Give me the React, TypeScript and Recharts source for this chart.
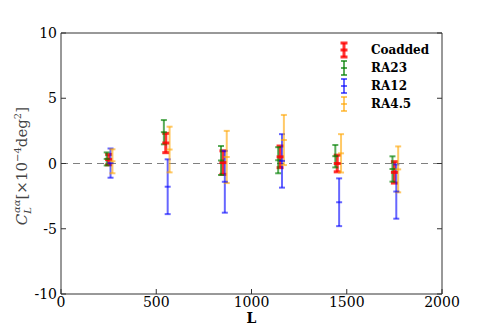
import { ScatterChart, Scatter, XAxis, YAxis, ErrorBar, ReferenceLine, Legend } from 'recharts'

const xTicks = [0, 500, 1000, 1500, 2000]
const yTicks = [-10, -5, 0, 5, 10]

// multipole bins, each sample shifted a little so the bars don't overlap
const coaddedL = [250, 550, 850, 1150, 1450, 1750]
const coaddedC = [0.3, 1.57, 0.07, 0.51, 0.0, -0.68]
const coaddedErr = [0.4, 0.74, 0.9, 0.83, 0.64, 0.82]

const ra23L = [240, 540, 840, 1140, 1440, 1740]
const ra23C = [0.35, 2.4, 0.23, 0.25, 0.56, -0.42]
const ra23Err = [0.5, 0.93, 1.11, 1.0, 0.86, 0.97]

const ra12L = [260, 560, 860, 1160, 1460, 1760]
const ra12C = [0.03, -1.78, -1.4, 0.2, -2.97, -2.15]
const ra12Err = [1.12, 2.1, 2.37, 2.05, 1.83, 2.08]

const ra45L = [270, 570, 870, 1170, 1470, 1770]
const ra45C = [0.17, 1.07, 0.5, 1.8, 0.78, -0.45]
const ra45Err = [0.92, 1.75, 2.0, 1.92, 1.47, 1.76]

const series = [
    { name: 'Coadded', ells: coaddedL, vals: coaddedC, errs: coaddedErr, color: 'rgba(255,0,0,0.8)', lw: 3, cap: 3.5 },
    { name: 'RA23', ells: ra23L, vals: ra23C, errs: ra23Err, color: 'rgba(0,128,0,0.65)', lw: 2, cap: 3 },
    { name: 'RA12', ells: ra12L, vals: ra12C, errs: ra12Err, color: 'rgba(0,0,255,0.6)', lw: 2, cap: 3 },
    { name: 'RA4.5', ells: ra45L, vals: ra45C, errs: ra45Err, color: 'rgba(255,165,0,0.6)', lw: 2, cap: 3 },
]

const axisColor = '#333'
const font = 'DejaVu Serif'

const LeftTick = ({ x, y, payload }: any) => (
    <g>
        <line x1={x} x2={x + 5} y1={y} y2={y} stroke={axisColor} />
        <text x={x - 4} y={y + 5} textAnchor="end" fontFamily={font} fontSize={14} fill="#000">
            {String(payload.value)}
        </text>
    </g>
)

const BottomTick = ({ x, y, payload }: any) => (
    <g>
        <line x1={x} x2={x} y1={y} y2={y - 5} stroke={axisColor} />
        <text x={x} y={y + 13} textAnchor="middle" fontFamily={font} fontSize={14} fill="#000">
            {String(payload.value)}
        </text>
    </g>
)

const RightTick = ({ x, y }: any) => <line x1={x} x2={x - 5} y1={y} y2={y} stroke={axisColor} />
const TopTick = ({ x, y }: any) => <line x1={x} x2={x} y1={y} y2={y + 5} stroke={axisColor} />

const LegendBox = () => (
    <div style={{ fontFamily: font, fontSize: 12, fontWeight: 'bold' }}>
        {series.map((s) => (
            <div key={s.name} style={{ display: 'flex', alignItems: 'center', height: 18 }}>
                <svg width={12} height={18}>
                    <line x1={6} x2={6} y1={2} y2={16} stroke={s.color} strokeWidth={s.lw} />
                    <line x1={6 - s.cap} x2={6 + s.cap} y1={2} y2={2} stroke={s.color} strokeWidth={s.lw} />
                    <line x1={6 - s.cap} x2={6 + s.cap} y1={16} y2={16} stroke={s.color} strokeWidth={s.lw} />
                    <line x1={6 - s.cap} x2={6 + s.cap} y1={9} y2={9} stroke={s.color} strokeWidth={s.lw} />
                </svg>
                <span style={{ marginLeft: 21, color: '#000' }}>{s.name}</span>
            </div>
        ))}
    </div>
)

export default function App() {
    return (
        <div style={{ position: 'absolute', left: 0, top: 0, width: 491, height: 327, background: '#fff' }}>
            <ScatterChart width={491} height={327} margin={{ top: 0, right: 0, bottom: 0, left: 0 }}>
                <XAxis
                    type="number"
                    dataKey="l"
                    domain={[0, 2000]}
                    ticks={xTicks}
                    interval={0}
                    height={33}
                    tickSize={0}
                    tickMargin={0}
                    tick={<BottomTick />}
                    axisLine={{ stroke: axisColor }}
                    allowDataOverflow
                />
                <XAxis
                    xAxisId="top"
                    orientation="top"
                    type="number"
                    domain={[0, 2000]}
                    ticks={xTicks}
                    interval={0}
                    height={33}
                    tickSize={0}
                    tickMargin={0}
                    tick={<TopTick />}
                    axisLine={{ stroke: axisColor }}
                    allowDataOverflow
                />
                <YAxis
                    type="number"
                    dataKey="v"
                    domain={[-10, 10]}
                    ticks={yTicks}
                    interval={0}
                    width={61}
                    tickSize={0}
                    tickMargin={0}
                    tick={<LeftTick />}
                    axisLine={{ stroke: axisColor }}
                    allowDataOverflow
                />
                <YAxis
                    yAxisId="right"
                    orientation="right"
                    type="number"
                    domain={[-10, 10]}
                    ticks={yTicks}
                    interval={0}
                    width={49}
                    tickSize={0}
                    tickMargin={0}
                    tick={<RightTick />}
                    axisLine={{ stroke: axisColor }}
                    allowDataOverflow
                />
                <ReferenceLine y={0} stroke="#808080" strokeDasharray="7 5" strokeWidth={1} />
                {series.map((s) => (
                    <Scatter
                        key={s.name}
                        name={s.name}
                        data={s.ells.map((l, i) => ({ l, v: s.vals[i], e: s.errs[i] }))}
                        fill={s.color}
                        isAnimationActive={false}
                        shape={(p: any) => (
                            <line
                                x1={p.cx - s.cap}
                                x2={p.cx + s.cap}
                                y1={p.cy}
                                y2={p.cy}
                                stroke={s.color}
                                strokeWidth={s.lw}
                            />
                        )}
                    >
                        <ErrorBar
                            dataKey="e"
                            direction="y"
                            width={s.cap}
                            stroke={s.color}
                            strokeWidth={s.lw}
                            isAnimationActive={false}
                        />
                    </Scatter>
                ))}
                <Legend
                    layout="horizontal"
                    verticalAlign="middle"
                    align="center"
                    content={<LegendBox />}
                    wrapperStyle={{ left: 338, top: 41, width: 100 }}
                />
            </ScatterChart>
            <svg
                width={491}
                height={327}
                style={{ position: 'absolute', left: 0, top: 0, pointerEvents: 'none' }}
            >
                <text
                    x={166}
                    y={27}
                    transform="rotate(-90 27 166) translate(-139 139)"
                    textAnchor="middle"
                    fontFamily={font}
                    fontSize={15}
                    fill="#444"
                >
                    <tspan fontStyle="italic">C</tspan>
                    <tspan fontSize={10} fontStyle="italic" dy={4}>L</tspan>
                    <tspan fontSize={10} fontStyle="italic" dx={-6} dy={-11}>αα</tspan>
                    <tspan dy={7}>[×10</tspan>
                    <tspan fontSize={10} dy={-6}>−4</tspan>
                    <tspan dy={6}>deg</tspan>
                    <tspan fontSize={10} dy={-6}>2</tspan>
                    <tspan dy={6}>]</tspan>
                </text>
                <text x={251.5} y={323} textAnchor="middle" fontFamily={font} fontSize={14} fontWeight="bold" fill="#000">
                    L
                </text>
            </svg>
        </div>
    )
}
